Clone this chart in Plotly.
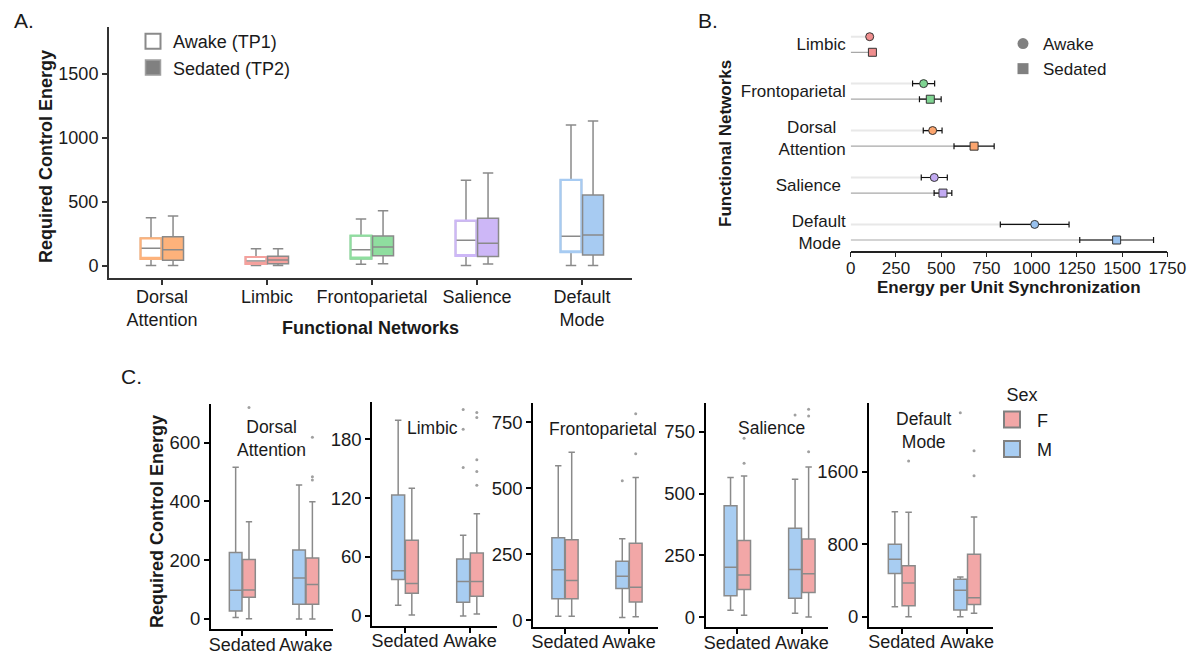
import plotly.graph_objects as go

W, H = 1203, 668
OFF = 8                      # page body margin around the plot div
FW, FH = W - 2 * OFF, H - 2 * OFF
FONT = 'Liberation Sans, Arial, sans-serif'
GRAY = '#8a8a8a'
INK = '#1a1a1a'

# ---- panel A: required control energy per network, awake vs sedated ----
networks_a = ['Dorsal<br>Attention', 'Limbic', 'Frontoparietal', 'Salience', 'Default<br>Mode']
net_colors_a = ['#FDB27B', '#F5A19D', '#8FDE9F', '#CDB7F7', '#A7CBF2']

awake_lo = [3, 3, 13, 3, 3]
awake_q1 = [55, 16, 57, 78, 107]
awake_med = [138, 39, 127, 200, 232]
awake_q3 = [216, 70, 237, 354, 672]
awake_hi = [377, 135, 367, 669, 1102]

sed_lo = [3, 3, 18, 16, 3]
sed_q1 = [44, 18, 80, 73, 86]
sed_med = [127, 47, 148, 177, 242]
sed_q3 = [229, 76, 234, 372, 555]
sed_hi = [391, 135, 432, 727, 1133]

# ---- panel B: energy per unit synchronization (mean +/- error) ----
networks_b = ['Limbic', 'Frontoparietal', 'Dorsal Attention', 'Salience', 'Default Mode']
labels_b = ['Limbic', 'Frontoparietal', 'Dorsal&nbsp;&nbsp;<br>Attention', 'Salience&nbsp;', 'Default<br>Mode&nbsp;']
net_colors_b = ['#F08E8E', '#7FD492', '#FCA56E', '#C2AAF2', '#98C1EE']
awake_eus = [105, 403, 453, 462, 1017]
awake_eus_err = [12, 61, 52, 72, 190]
sed_eus = [120, 440, 682, 510, 1470]
sed_eus_err = [15, 60, 111, 49, 204]

# ---- panel C: by sex, one [sedated, awake] pair per network ----
states = ['Sedated', 'Awake']
networks_c = ['Dorsal<br>Attention', 'Limbic', 'Frontoparietal', 'Salience', 'Default<br>Mode']

m_lo = [[5, 0], [11, 0], [15, 10], [28, 16], [110, 0]]
m_q1 = [[27, 50], [37, 14], [81, 120], [87, 77], [478, 74]]
m_med = [[98, 139], [46, 35], [191, 166], [202, 193], [633, 291]]
m_q3 = [[226, 235], [123, 58], [312, 223], [451, 360], [798, 412]]
m_hi = [[516, 456], [199, 82], [585, 308], [565, 558], [1158, 438]]
m_out = [[[], [575]], [[], [210, 190, 151]], [[], [528]], [[], [818]], [[], [2250]]]

f_lo = [[1, 0], [1, 2], [15, 13], [8, 1], [0, 37]]
f_q1 = [[74, 50], [23, 20], [81, 69], [112, 100], [121, 136]]
f_med = [[99, 117], [33, 35], [150, 125], [171, 176], [372, 210]]
f_q3 = [[202, 207], [77, 64], [305, 291], [311, 317], [563, 688]]
f_hi = [[331, 399], [130, 104], [636, 541], [571, 608], [1151, 1100]]
f_out = [[[719], [618, 484, 473]], [[], [207, 202, 159, 147, 133]], [[], [782, 631]],
         [[724, 623], [841, 814, 670]], [[1717], [1831, 1555]]]

sex_colors = {'M': '#A8CDF2', 'F': '#F2A7A7'}


def fx(a):
    return (a - OFF) / FW


def fy(y):
    return 1 - (y - OFF) / FH


def px_x(a, b):
    return [fx(a), fx(b)]


def px_y(top, bottom):
    return [fy(bottom), fy(top)]


fig = go.Figure()

# panel A
for i, net in enumerate(networks_a):
    fig.add_trace(go.Box(
        x=[net], q1=[awake_q1[i]], median=[awake_med[i]], q3=[awake_q3[i]],
        lowerfence=[awake_lo[i]], upperfence=[awake_hi[i]],
        fillcolor='white', line=dict(color=GRAY, width=1.5), whiskerwidth=0.5,
        offsetgroup='awake', boxpoints=False, showlegend=False, hoverinfo='skip'))
    # coloured outline of the awake box, whiskers collapsed
    fig.add_trace(go.Box(
        x=[net], q1=[awake_q1[i]], median=[awake_q1[i]], q3=[awake_q3[i]],
        lowerfence=[awake_q1[i]], upperfence=[awake_q3[i]],
        fillcolor='rgba(0,0,0,0)', line=dict(color=net_colors_a[i], width=2.2), whiskerwidth=0,
        offsetgroup='awake', boxpoints=False, showlegend=False, hoverinfo='skip'))
    fig.add_trace(go.Box(
        x=[net], q1=[sed_q1[i]], median=[sed_med[i]], q3=[sed_q3[i]],
        lowerfence=[sed_lo[i]], upperfence=[sed_hi[i]],
        fillcolor=net_colors_a[i], line=dict(color=GRAY, width=1.5), whiskerwidth=0.5,
        offsetgroup='sedated', boxpoints=False, showlegend=False, hoverinfo='skip'))

fig.add_trace(go.Scatter(x=[None], y=[None], mode='markers', name='Awake (TP1)', legend='legend',
                         marker=dict(symbol='square', size=15, color='white', line=dict(color=GRAY, width=2))))
fig.add_trace(go.Scatter(x=[None], y=[None], mode='markers', name='Sedated (TP2)', legend='legend',
                         marker=dict(symbol='square', size=15, color='#808080', line=dict(color='#a0a0a0', width=1.5))))

# panel B: stems from zero, then markers with error bars
for vals, grp, col, w in [(awake_eus, 'awake', '#e8e8e8', 2), (sed_eus, 'sedated', '#a8a8a8', 1.2)]:
    fig.add_trace(go.Scatter(
        x=vals, y=networks_b, orientation='h', offsetgroup=grp, mode='markers',
        marker=dict(size=2, opacity=0),
        error_x=dict(type='data', symmetric=False, array=[0 for _ in vals], arrayminus=vals,
                     color=col, thickness=w, width=0),
        xaxis='x7', yaxis='y7', showlegend=False, hoverinfo='skip'))

for vals, errs, grp, sym in [(awake_eus, awake_eus_err, 'awake', 'circle'),
                             (sed_eus, sed_eus_err, 'sedated', 'square')]:
    fig.add_trace(go.Scatter(
        x=vals, y=networks_b, orientation='h', offsetgroup=grp, mode='markers',
        marker=dict(symbol=sym, size=8, color=net_colors_b, line=dict(color='#333333', width=1)),
        error_x=dict(type='data', array=errs, color='#111111', thickness=1.2, width=3),
        xaxis='x7', yaxis='y7', showlegend=False))

fig.add_trace(go.Scatter(x=[None], y=[None], mode='markers', name='Awake', legend='legend2',
                         xaxis='x7', yaxis='y7',
                         marker=dict(symbol='circle', size=11, color='#808080')))
fig.add_trace(go.Scatter(x=[None], y=[None], mode='markers', name='Sedated', legend='legend2',
                         xaxis='x7', yaxis='y7',
                         marker=dict(symbol='square', size=11, color='#808080')))

# panel C
for i in range(len(networks_c)):
    ax = str(i + 2)
    for sex, lo, q1, med, q3, hi, outs in [('M', m_lo, m_q1, m_med, m_q3, m_hi, m_out),
                                           ('F', f_lo, f_q1, f_med, f_q3, f_hi, f_out)]:
        for j, st in enumerate(states):
            fig.add_trace(go.Box(
                x=[st], y=[outs[i][j]] if outs[i][j] else None,
                q1=[q1[i][j]], median=[med[i][j]], q3=[q3[i][j]],
                lowerfence=[lo[i][j]], upperfence=[hi[i][j]],
                fillcolor=sex_colors[sex], line=dict(color=GRAY, width=1.5), whiskerwidth=0.5,
                boxpoints='outliers', pointpos=0, jitter=0,
                marker=dict(size=3, color='#a0a0a0'),
                offsetgroup=sex, xaxis='x' + ax, yaxis='y' + ax,
                showlegend=False, hoverinfo='skip'))

for sex, rank in [('F', 1), ('M', 2)]:
    fig.add_trace(go.Scatter(x=[None], y=[None], mode='markers', name=sex, legend='legend3',
                             legendgroup=sex, legendrank=rank, xaxis='x7', yaxis='y7',
                             marker=dict(symbol='square', size=16, color=sex_colors[sex],
                                         line=dict(color='#808080', width=2))))

axis_common = dict(showgrid=False, zeroline=False, showline=True, ticks='outside', ticklen=5,
                   automargin=False, fixedrange=True)

layout_axes = dict(
    xaxis=dict(domain=px_x(109, 632), range=[-0.505, 4.476], type='category',
               categoryorder='array', categoryarray=networks_a, anchor='y', tickangle=0,
               linecolor='#333333', linewidth=2, tickcolor='#333333', tickwidth=1.5,
               ticklabelstandoff=-4, tickfont=dict(size=18, color=INK), **axis_common),
    yaxis=dict(domain=px_y(27, 278), range=[-94, 1867], dtick=500, tick0=0, anchor='x',
               linecolor='#333333', linewidth=2, tickcolor='#333333', tickwidth=1.5,
               tickfont=dict(size=18, color=INK), **axis_common),
    xaxis7=dict(domain=px_x(850.7, 1167.3), range=[0, 1750], dtick=250, tick0=0, anchor='y7',
                tickangle=0,
                linecolor='#222222', linewidth=1.5, tickcolor='#222222', tickwidth=1.2,
                ticklabelstandoff=-4, tickfont=dict(size=17, color=INK), **axis_common),
    yaxis7=dict(domain=px_y(26, 250.7), type='category', categoryorder='array',
                categoryarray=networks_b, range=[4.394, -0.394], anchor='x7',
                tickmode='array', tickvals=networks_b, ticktext=labels_b,
                showgrid=False, zeroline=False, showline=False, ticks='', ticklabelstandoff=4,
                automargin=False, fixedrange=True, tickfont=dict(size=17, color=INK)),
)

c_x_dom = [(211, 333.3), (372.3, 497.3), (533.3, 658.3), (705.7, 828.3), (869, 992.7)]
c_y_dom = [(404, 629.3), (401.7, 625.7), (403.3, 626.7), (402.7, 627.3), (402.7, 626.7)]
c_x_rng = [[-0.494, 1.435], [-0.503, 1.42], [-0.495, 1.458], [-0.49, 1.41], [-0.5, 1.39]]
c_y_rng = [[-35, 731], [-9.9, 218], [-25, 822], [-40.5, 868], [-110, 2360]]
c_dtick = [200, 60, 250, 250, 800]
for i in range(5):
    ax = str(i + 2)
    layout_axes['xaxis' + ax] = dict(domain=px_x(*c_x_dom[i]), range=c_x_rng[i], type='category',
                                     categoryorder='array', categoryarray=states, anchor='y' + ax,
                                     tickangle=0,
                                     linecolor='black', linewidth=2, tickcolor='black', tickwidth=1.5,
                                     ticklabelstandoff=-7, tickfont=dict(size=18, color=INK),
                                     **axis_common)
    layout_axes['yaxis' + ax] = dict(domain=px_y(*c_y_dom[i]), range=c_y_rng[i], dtick=c_dtick[i],
                                     tick0=0, anchor='x' + ax,
                                     linecolor='black', linewidth=2, tickcolor='black', tickwidth=1.5,
                                     tickfont=dict(size=18.5, color=INK), **axis_common)

annotations = []


def note(text, x, y, size, bold=False, angle=0, xanchor='center'):
    annotations.append(dict(
        text='<b>%s</b>' % text if bold else text, x=fx(x), y=fy(y),
        xref='paper', yref='paper', xanchor=xanchor, yanchor='middle',
        textangle=angle, showarrow=False, font=dict(size=size, color=INK)))


note('A.', 12, 21, 21, xanchor='left')
note('B.', 696, 20, 21, xanchor='left')
note('C.', 119, 376, 21, xanchor='left')
note('Required Control Energy', 46, 157, 18, bold=True, angle=-90)
note('Functional Networks', 370, 328, 18, bold=True)
note('Functional Networks', 725, 144, 17, bold=True, angle=-90)
note('Energy per Unit Synchronization', 1009, 287, 17, bold=True)
note('Required Control Energy', 157, 521, 18, bold=True, angle=-90)

c_title_x = [271, 432, 603, 771, 924]
c_title_y = [438.5, 428, 429, 428, 430.5]
for i, net in enumerate(networks_c):
    note(net, c_title_x[i], c_title_y[i], 17.5)

fig.update_layout(
    width=FW, height=FH, autosize=False,
    margin=dict(l=0, r=0, t=0, b=0),
    paper_bgcolor='white', plot_bgcolor='white',
    font=dict(family=FONT, size=17, color=INK),
    boxmode='group', boxgap=0.58, boxgroupgap=0.05,
    scattermode='group', scattergap=0.335,
    annotations=annotations,
    legend=dict(x=fx(133), y=fy(23), xanchor='left', yanchor='top', bgcolor='rgba(0,0,0,0)',
                font=dict(size=18, color=INK), itemwidth=30),
    legend2=dict(x=fx(1003), y=fy(26), xanchor='left', yanchor='top', bgcolor='rgba(0,0,0,0)',
                 font=dict(size=17, color=INK), itemwidth=30),
    legend3=dict(x=fx(987), y=fy(378), xanchor='left', yanchor='top', bgcolor='rgba(0,0,0,0)',
                 font=dict(size=18, color=INK), itemwidth=40, traceorder='grouped', tracegroupgap=3,
                 title=dict(text='Sex', side='top center', font=dict(size=18, color=INK))),
    **layout_axes,
)

fig.write_html("out.html")
